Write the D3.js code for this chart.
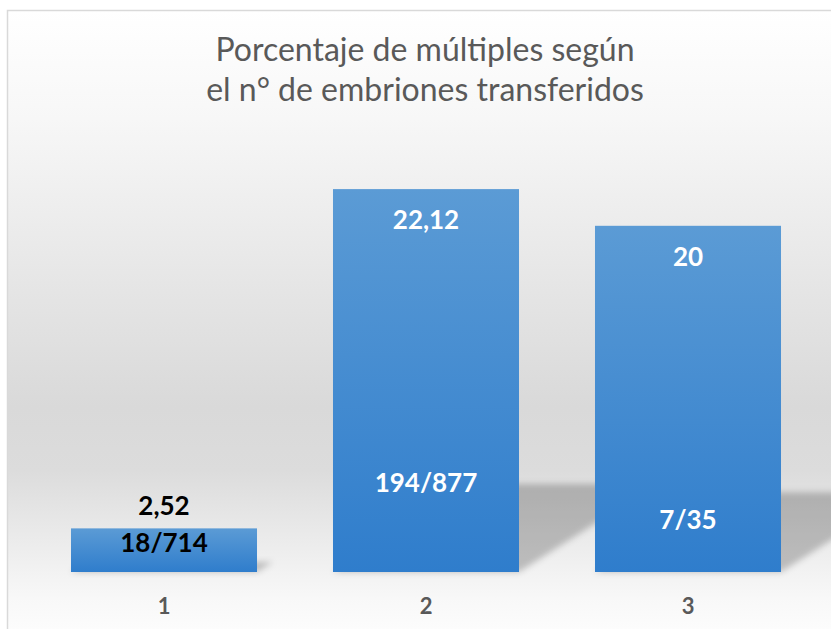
<!DOCTYPE html>
<html>
<head>
<meta charset="utf-8">
<script src="https://cdn.jsdelivr.net/npm/d3@7"></script>
<style>
  body { margin: 0; background: #fff; }
  svg { display: block; }
</style>
</head>
<body>
<div id="chart"></div>
<script>
const width = 831;
const height = 629;

// data
const categories = ['1', '2', '3'];
const percentages = [2.52, 22.12, 20];
const percentLabels = ['2,52', '22,12', '20'];
const ratioLabels = ['18/714', '194/877', '7/35'];
const titleLines = ['Porcentaje de múltiples según', 'el n° de embriones transferidos'];

// where the ratio label sits, in value units (hand placed in the original)
const ratioAt = [1.16, 4.62, 2.48];

const fontFam = 'Lato, "Open Sans", sans-serif';
const grey = '#595959';

const svg = d3.select('#chart')
    .append('svg')
    .attr('width', width)
    .attr('height', height);

const defs = svg.append('defs');

// chart background: white -> grey -> white
const bg = defs.append('linearGradient')
    .attr('id', 'bg')
    .attr('gradientUnits', 'userSpaceOnUse')
    .attr('x1', 0).attr('y1', 10).attr('x2', 0).attr('y2', 650);
[[0, '#ffffff'], [0.17, '#f7f7f7'], [0.62, '#d9d9d9'], [0.72, '#dcdcdc'], [0.92, '#f8f8f8'], [1, '#ffffff']]
    .forEach(s => bg.append('stop').attr('offset', s[0]).attr('stop-color', s[1]));

const barGrad = defs.append('linearGradient')
    .attr('id', 'barGrad')
    .attr('x1', 0).attr('y1', 0).attr('x2', 0).attr('y2', 1);
barGrad.append('stop').attr('offset', 0).attr('stop-color', '#5b9bd5');
barGrad.append('stop').attr('offset', 1).attr('stop-color', '#2f7dcc');

defs.append('filter')
    .attr('id', 'blur')
    .attr('x', '-50%').attr('y', '-50%').attr('width', '200%').attr('height', '200%')
    .append('feGaussianBlur')
    .attr('stdDeviation', 3);

svg.append('rect')
    .attr('x', 7.5).attr('y', 10.5)
    .attr('width', 850).attr('height', 650)
    .attr('fill', 'url(#bg)')
    .attr('stroke', '#d9d9d9')
    .attr('stroke-width', 1.5);

// title
svg.append('text')
    .attr('x', 425)
    .attr('y', 61)
    .attr('text-anchor', 'middle')
    .attr('fill', grey)
    .style('font-family', fontFam)
    .style('font-size', '32px')
    .selectAll('tspan')
    .data(titleLines)
    .enter()
    .append('tspan')
    .attr('x', 425)
    .attr('dy', (d, i) => i === 0 ? 0 : 40)
    .text(d => d);

const x = d3.scaleBand()
    .domain(categories)
    .range([33, 819])
    .paddingInner(0.29)
    .paddingOuter(0.145);

const y = d3.scaleLinear()
    .domain([0, 25])
    .range([572, 572 - 25 * 17.31]);

const rows = categories.map((c, i) => ({
    cat: c, v: percentages[i], pl: percentLabels[i], rl: ratioLabels[i], ra: ratioAt[i], i: i
}));

// perspective shadow, squashed and leaned to the right
const shadow = d => {
    const x0 = x(d.cat), x1 = x0 + x.bandwidth();
    const h = (y(0) - y(d.v)) * 0.23;
    const s = h * 1.57;
    return `M${x0},${y(0)}L${x1},${y(0)}L${x1 + s},${y(0) - h}L${x0 + s},${y(0) - h}Z`;
};

svg.append('g')
    .selectAll('path')
    .data(rows)
    .enter()
    .append('path')
    .attr('d', shadow)
    .attr('fill', '#000')
    .attr('fill-opacity', 0.22)
    .attr('filter', 'url(#blur)');

svg.append('g')
    .selectAll('rect')
    .data(rows)
    .enter()
    .append('rect')
    .attr('x', d => x(d.cat))
    .attr('y', d => y(d.v))
    .attr('width', x.bandwidth())
    .attr('height', d => y(0) - y(d.v))
    .attr('fill', 'url(#barGrad)');

// percentage labels: above the short bar, inside the tall ones
svg.append('g')
    .selectAll('text')
    .data(rows)
    .enter()
    .append('text')
    .attr('x', d => x(d.cat) + x.bandwidth() / 2)
    .attr('y', d => d.v < 5 ? y(d.v) - 13 : y(d.v) + 40)
    .attr('text-anchor', 'middle')
    .attr('fill', d => d.v < 5 ? '#000' : '#fff')
    .style('font-family', fontFam)
    .style('font-weight', 'bold')
    .style('font-size', '26px')
    .text(d => d.pl);

svg.append('g')
    .selectAll('text')
    .data(rows)
    .enter()
    .append('text')
    .attr('x', d => x(d.cat) + x.bandwidth() / 2)
    .attr('y', d => y(d.ra))
    .attr('text-anchor', 'middle')
    .attr('fill', d => d.v < 5 ? '#000' : '#fff')
    .style('font-family', fontFam)
    .style('font-weight', 'bold')
    .style('font-size', '26px')
    .text(d => d.rl);

// category axis, no line or ticks
const xAxis = svg.append('g')
    .attr('transform', `translate(0,${y(0)})`)
    .call(d3.axisBottom(x).tickSize(0).tickPadding(42));
xAxis.select('.domain').remove();
xAxis.selectAll('text')
    .attr('fill', grey)
    .style('font-family', fontFam)
    .style('font-weight', 'bold')
    .style('font-size', '22px')
    .attr('dy', 0);
</script>
</body>
</html>
